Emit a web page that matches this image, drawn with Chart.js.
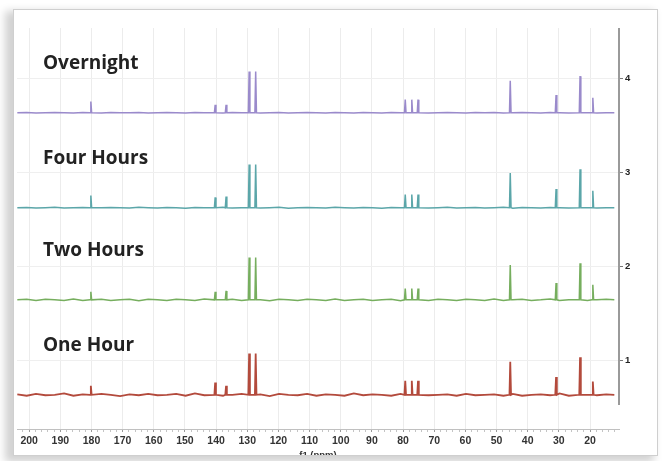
<!DOCTYPE html>
<html>
<head>
<meta charset="utf-8">
<script src="https://cdn.jsdelivr.net/npm/chart.js@4/dist/chart.umd.min.js"></script>
<style>
  html, body { margin: 0; padding: 0; background: #ffffff; width: 663px; height: 461px; overflow: hidden; }
  #card {
    position: absolute; left: 13px; top: 9px; width: 643px; height: 445px;
    border: 1px solid #cfcfcf; background: #ffffff; overflow: hidden;
    box-shadow: -6px 4px 8px 2px rgba(0,0,0,0.18);
  }
  #c { position: absolute; left: -14px; top: -10px; }
</style>
</head>
<body>
<div id="card"><canvas id="c" width="663" height="461"></canvas></div>
<script>
// ---- data ----
const seriesNames = ["One Hour", "Two Hours", "Four Hours", "Overnight"];
const seriesColors = ["#b34a3c", "#76ae5e", "#5ba6a9", "#9a8acb"];
const seriesOffsets = [0.63, 1.64, 2.62, 3.63];          // stacked baseline of each trace

const peakPpm = [180.2, 140.3, 136.8, 129.4, 127.3, 79.3, 77.2, 75.2, 45.6, 30.9, 23.2, 19.1];
const heightsOneHour   = [0.095, 0.13, 0.095, 0.44, 0.44, 0.15, 0.15, 0.15, 0.35, 0.19, 0.40, 0.14];
const heightsTwoHours  = [0.085, 0.085, 0.095, 0.45, 0.45, 0.12, 0.12, 0.12, 0.37, 0.18, 0.39, 0.16];
const heightsFourHours = [0.13, 0.11, 0.12, 0.46, 0.46, 0.14, 0.14, 0.14, 0.37, 0.20, 0.41, 0.18];
const heightsOvernight = [0.12, 0.085, 0.085, 0.44, 0.44, 0.14, 0.14, 0.14, 0.34, 0.19, 0.39, 0.16];

const noisePpm = [203.8,200.8,197.8,194.8,191.8,188.8,185.8,182.8,179.8,176.8,173.8,170.8,167.8,164.8,161.8,158.8,
  155.8,152.8,149.8,146.8,143.8,140.8,137.8,134.8,131.8,128.8,125.8,122.8,119.8,116.8,113.8,110.8,
  107.8,104.8,101.8,98.8,95.8,92.8,89.8,86.8,83.8,80.8,77.8,74.8,71.8,68.8,65.8,62.8,
  59.8,56.8,53.8,50.8,47.8,44.8,41.8,38.8,35.8,32.8,29.8,26.8,23.8,20.8,17.8,14.8,12.2];
// baseline wiggle, in hundredths of an axis unit
const noiseOneHour = [0.5,-1,1,-0.5,0,1.5,-1,0.5,-0.5,1,0,-1.5,0.5,-0.5,1,-0.5,
  0,1,-1,1.5,-0.5,0.5,-1,0,1,-0.5,0.5,-1.5,1,0,-0.5,1,
  -1,0.5,0,-1,1.5,-0.5,0.5,0,-1,1,-0.5,1,-0.5,0,0.5,-1,
  1,-0.5,0,0.5,-1,1,-1,0,0.5,-0.5,1.5,-1,0.5,0,-0.5,0.5,0];
const noiseTwoHours = [0,0.6,-0.6,0.6,0,-0.6,1,-0.6,0,0.6,-0.6,0,0.6,-1,0.6,0,
  -0.6,0.6,0,-0.6,1,-0.6,0,0.6,-0.6,0.6,0,-1,0.6,0,-0.6,0.6,
  0,-0.6,1,-0.6,0,0.6,-0.6,0,0.6,-1,0.6,0,-0.6,0.6,0,-0.6,
  0.6,0,-0.6,1,-0.6,0,0.6,-0.6,0,1,-0.6,0,0.6,-0.6,0,0.6,0];
const noiseFourHours = [0,0.3,-0.3,0,0.5,-0.3,0,0.3,-0.5,0,0.3,0,-0.3,0.5,0,-0.3,
  0.3,0,-0.5,0.3,0,0,0.5,-0.3,0,0.3,-0.3,0,0.5,-0.5,0,0.3,
  0,-0.3,0.5,0,-0.3,0.3,0,-0.5,0.3,0,0,0.3,-0.3,0,0.5,-0.3,
  0,0.3,-0.3,0,0.5,-0.5,0.3,0,-0.3,0.3,0,-0.3,0.5,0,-0.3,0,0];
const noiseOvernight = [0,0.2,-0.2,0,0.3,0,-0.2,0.2,0,-0.3,0.2,0,0,0.2,-0.2,0,
  0.2,0,-0.2,0.2,0,0,-0.3,0.2,0,0.2,-0.2,0,0.3,-0.2,0,0.2,
  0,-0.2,0.2,0,-0.2,0.3,0,-0.2,0.2,0,0,0.2,-0.2,0,0.2,0,
  -0.2,0.2,0,0.3,-0.2,0,0.2,0,-0.2,0.2,0,-0.2,0.2,0,-0.2,0,0];

const xTickLabels = [200,190,180,170,160,150,140,130,120,110,100,90,80,70,60,50,40,30,20];
const yTickLabels = [1,2,3,4];
const xAxisTitle = "f1 (ppm)";

// ---- build datasets ----
const allHeights = [heightsOneHour, heightsTwoHours, heightsFourHours, heightsOvernight];
const allNoise = [noiseOneHour, noiseTwoHours, noiseFourHours, noiseOvernight];
const PEAK_HALF = 0.25;

function buildTrace(k) {
  const off = seriesOffsets[k];
  const pts = [];
  noisePpm.forEach((p, i) => {
    if (peakPpm.some(q => Math.abs(q - p) < 0.7)) return;
    pts.push({ x: p, y: off + allNoise[k][i] / 100 });
  });
  peakPpm.forEach((p, j) => {
    pts.push({ x: p + PEAK_HALF, y: off });
    pts.push({ x: p, y: off + allHeights[k][j] });
    pts.push({ x: p - PEAK_HALF, y: off });
  });
  pts.sort((a, b) => b.x - a.x);
  return pts;
}

const datasets = seriesNames.map((name, k) => ({
  label: name,
  data: buildTrace(k),
  borderColor: seriesColors[k],
  borderWidth: k === 0 ? 1.8 : 1.5,
  pointRadius: 0,
  tension: 0,
  fill: false
}));

const namePlugin = {
  id: 'names',
  afterDatasetsDraw(chart) {
    const { ctx, chartArea, scales } = chart;
    ctx.save();
    // right-hand axis line
    ctx.strokeStyle = '#9a9a9a';
    ctx.lineWidth = 2;
    ctx.beginPath();
    ctx.moveTo(chartArea.right, chartArea.top);
    ctx.lineTo(chartArea.right, scales.y.getPixelForValue(0.52));
    ctx.stroke();
    // trace names
    ctx.fillStyle = '#222222';
    ctx.font = 'bold 19px "Open Sans", "Liberation Sans", sans-serif';
    ctx.textBaseline = 'middle';
    ctx.textAlign = 'left';
    seriesNames.forEach((name, k) => {
      ctx.fillText(name, chartArea.left + 26, scales.y.getPixelForValue(seriesOffsets[k] + 0.52));
    });
    ctx.restore();
  }
};

const isMajor = v => xTickLabels.includes(Math.round(v));

new Chart(document.getElementById('c'), {
  type: 'line',
  data: { datasets },
  plugins: [namePlugin],
  options: {
    responsive: false,
    animation: false,
    layout: { padding: { left: 17, top: 28, right: 0, bottom: 0 } },
    plugins: { legend: { display: false }, tooltip: { enabled: false } },
    scales: {
      x: {
        type: 'linear',
        reverse: true,
        min: 10.7,
        max: 203.9,
        afterBuildTicks(scale) {
          const t = [];
          for (let v = 12; v <= 202; v += 2) t.push({ value: v });
          scale.ticks = t;
        },
        afterFit(scale) { scale.height = 32; },
        ticks: {
          autoSkip: false,
          maxRotation: 0,
          padding: 3,
          color: '#333333',
          font: { family: '"Liberation Sans", Arial, sans-serif', size: 10.5, weight: 'bold' },
          callback: v => isMajor(v) ? String(Math.round(v)) : ''
        },
        grid: {
          color: c => (c.tick && isMajor(c.tick.value)) ? '#ececec' : 'rgba(0,0,0,0)',
          tickColor: c => (c.tick && isMajor(c.tick.value)) ? '#9a9a9a' : '#c4c4c4',
          tickLength: 3,
          drawOnChartArea: true
        },
        border: { color: '#c0c0c0', width: 1 },
        title: {
          display: true, text: xAxisTitle, color: '#333333',
          font: { family: '"Liberation Sans", Arial, sans-serif', size: 9.5, weight: 'bold' },
          padding: { top: 0, bottom: 0 }
        }
      },
      y: {
        type: 'linear',
        position: 'right',
        min: 0.266,
        max: 4.532,
        afterBuildTicks(scale) { scale.ticks = yTickLabels.map(v => ({ value: v })); },
        afterFit(scale) { scale.width = 44; },
        ticks: {
          padding: 2,
          color: '#222222',
          font: { family: '"Liberation Sans", Arial, sans-serif', size: 9.5, weight: 'bold' },
          callback: v => String(v)
        },
        grid: { color: '#efefef', tickColor: '#777777', tickLength: 4 },
        border: { display: false }
      }
    }
  }
});
</script>
</body>
</html>
